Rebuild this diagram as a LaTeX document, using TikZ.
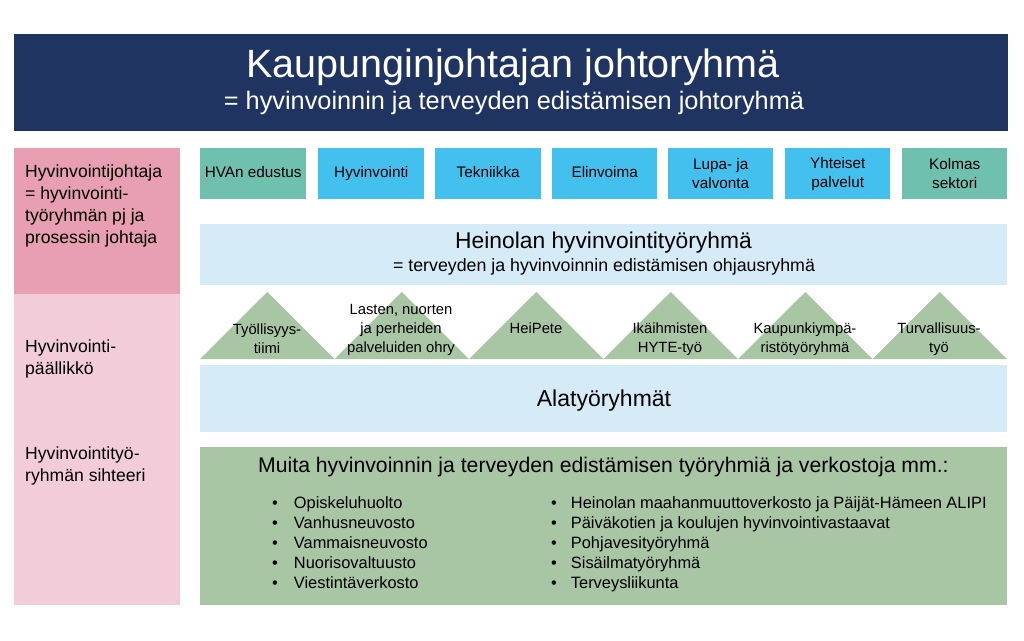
\documentclass[tikz,border=0pt]{standalone}
\usepackage{fontspec}
\setmainfont{Liberation Sans}
\definecolor{navy}{HTML}{1F3461}
\definecolor{pinkdark}{HTML}{E79FB1}
\definecolor{pinklight}{HTML}{F2CCD8}
\definecolor{teal}{HTML}{70C0B0}
\definecolor{skyblue}{HTML}{44C0EF}
\definecolor{paleblue}{HTML}{D5EBF7}
\definecolor{sage}{HTML}{A8C6A4}
\tikzset{
  unitbox/.style={fill=skyblue, minimum width=105pt, minimum height=51pt, inner sep=0pt, anchor=north west, align=center, font=\fontsize{15.3}{19}\selectfont},
  tealbox/.style={unitbox, fill=teal},
  oneline/.style={text height=11pt, text depth=3.5pt},
  tri/.style={fill=sage},
  trilabel/.style={align=center, font=\fontsize{14.8}{19}\selectfont, inner sep=0pt},
  lefttext/.style={align=left, anchor=north west, inner sep=0pt, font=\fontsize{17.6}{22}\selectfont},
  listtext/.style={anchor=north west, inner sep=0pt, font=\fontsize{16.4}{20}\selectfont},
}
\begin{document}
\begin{tikzpicture}[x=1pt,y=-1pt]
\useasboundingbox (0,0) rectangle (1024,640);
% banner
\node[fill=navy, minimum width=994pt, minimum height=97pt, anchor=north west, inner sep=0pt] (banner) at (14,34) {};
\node[text=white, font=\fontsize{39.5}{44}\selectfont, inner sep=0pt] (title) at (513,67) {Kaupunginjohtajan johtoryhmä};
\node[text=white, font=\fontsize{25.3}{29}\selectfont, inner sep=0pt] (subtitle) at (514,103) {= hyvinvoinnin ja terveyden edistämisen johtoryhmä};
% left column
\node[fill=pinkdark, minimum width=166pt, minimum height=146pt, anchor=north west, inner sep=0pt] (lefttop) at (14,148) {};
\node[fill=pinklight, minimum width=166pt, minimum height=311pt, anchor=north west, inner sep=0pt] (leftbot) at (14,294) {};
\node[lefttext] (lt1) at (25,165) {Hyvinvointijohtaja\\= hyvinvointi-\\työryhmän pj ja\\prosessin johtaja};
\node[lefttext] (lt2) at (25,340) {Hyvinvointi-\\päällikkö};
\node[lefttext] (lt3) at (25,447) {Hyvinvointityö-\\ryhmän sihteeri};
% top row boxes
\node[tealbox, oneline, minimum width=106pt] (b1) at (200,148) {HVAn edustus};
\node[unitbox, oneline, minimum width=106pt] (b2) at (318,148) {Hyvinvointi};
\node[unitbox, oneline, minimum width=106pt] (b3) at (435,148) {Tekniikka};
\node[unitbox, oneline] (b4) at (552,148) {Elinvoima};
\node[unitbox] (b5) at (668,148) {Lupa- ja\\valvonta};
\node[unitbox] (b6) at (785,148) {Yhteiset\\palvelut};
\node[tealbox] (b7) at (902,148) {Kolmas\\sektori};
% Heinolan
\node[fill=paleblue, minimum width=807pt, minimum height=61pt, anchor=north west, inner sep=0pt] (heinola) at (200,224) {};
\node[font=\fontsize{22.8}{26}\selectfont, inner sep=0pt] (h1) at (603.5,243) {Heinolan hyvinvointityöryhmä};
\node[font=\fontsize{17.8}{21}\selectfont, inner sep=0pt] (h2) at (604,267) {= terveyden ja hyvinvoinnin edistämisen ohjausryhmä};
% triangles
\foreach \i in {0,...,5}{
  \fill[tri] ({200+134.5*\i},359) -- ({267.25+134.5*\i},292) -- ({334.5+134.5*\i},359) -- cycle;
}
\node[trilabel] (t1) at (267,339) {Työllisyys-\\tiimi};
\node[trilabel] (t2) at (401,330) {Lasten, nuorten\\ja perheiden\\palveluiden ohry};
\node[trilabel, oneline] (t3) at (536,330) {HeiPete};
\node[trilabel] (t4) at (670,339) {Ikäihmisten\\HYTE-työ};
\node[trilabel] (t5) at (805,339) {Kaupunkiympä-\\ristötyöryhmä};
\node[trilabel] (t6) at (939,339) {Turvallisuus-\\työ};
% Alatyöryhmät
\node[fill=paleblue, minimum width=807pt, minimum height=67pt, anchor=north west, inner sep=0pt] (ala) at (200,365) {};
\node[font=\fontsize{23}{26}\selectfont, inner sep=0pt] (alat) at (604,401) {Alatyöryhmät};
% bottom green
\node[fill=sage, minimum width=807pt, minimum height=158pt, anchor=north west, inner sep=0pt] (muita) at (200,447) {};
\node[font=\fontsize{21.2}{24}\selectfont, anchor=west, inner sep=0pt] (muitat) at (258,467) {Muita hyvinvoinnin ja terveyden edistämisen työryhmiä ja verkostoja mm.:};
\node[listtext] (list1) at (272,494) {%
\begin{tabular}{@{}l@{\hspace{16pt}}l@{}}
•&Opiskeluhuolto\\
•&Vanhusneuvosto\\
•&Vammaisneuvosto\\
•&Nuorisovaltuusto\\
•&Viestintäverkosto
\end{tabular}};
\node[listtext] (list2) at (551,494) {%
\begin{tabular}{@{}l@{\hspace{14pt}}l@{}}
•&Heinolan maahanmuuttoverkosto ja Päijät-Hämeen ALIPI\\
•&Päiväkotien ja koulujen hyvinvointivastaavat\\
•&Pohjavesityöryhmä\\
•&Sisäilmatyöryhmä\\
•&Terveysliikunta
\end{tabular}};
\end{tikzpicture}
\end{document}
